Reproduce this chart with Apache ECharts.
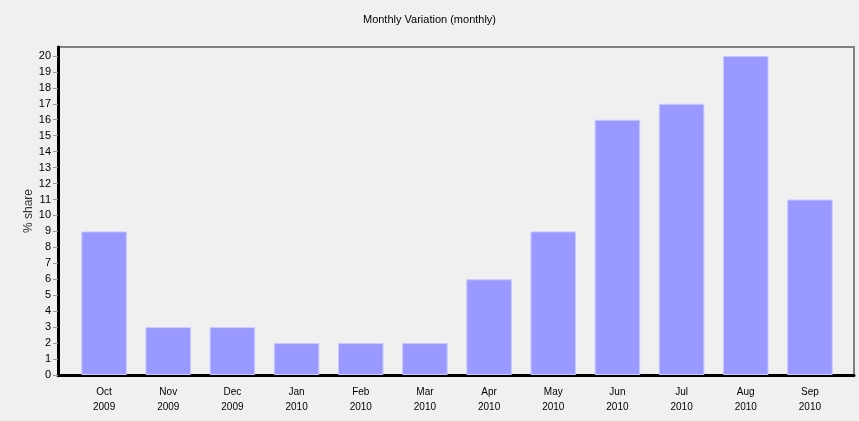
<!DOCTYPE html>
<html>
<head>
<meta charset="utf-8">
<script src="https://cdn.jsdelivr.net/npm/echarts@6/dist/echarts.min.js"></script>
<style>
  html, body { margin: 0; padding: 0; background: #ffffff; }
  #chart { width: 859px; height: 421px; }
</style>
</head>
<body>
<div id="chart"></div>
<script>
// months on the x axis (two-line labels)
var months = ['Oct', 'Nov', 'Dec', 'Jan', 'Feb', 'Mar', 'Apr', 'May', 'Jun', 'Jul', 'Aug', 'Sep'];
var years = ['2009', '2009', '2009', '2010', '2010', '2010', '2010', '2010', '2010', '2010', '2010', '2010'];
// % share per month
var share = [9, 3, 3, 2, 2, 2, 6, 9, 16, 17, 20, 11];
// y tick labels
var yTicks = [0, 1, 2, 3, 4, 5, 6, 7, 8, 9, 10, 11, 12, 13, 14, 15, 16, 17, 18, 19, 20];

var categories = months.map(function (m, i) { return m + '\n' + years[i]; });
var yMax = 20.56;

var chart = echarts.init(document.getElementById('chart'));
chart.setOption({
  backgroundColor: '#f0f0f0',
  animation: false,
  textStyle: { fontFamily: 'Liberation Sans, Arial, sans-serif' },
  title: {
    text: 'Monthly Variation (monthly)',
    left: 'center',
    top: 9,
    textStyle: { fontSize: 11, fontWeight: 'normal', color: '#000' }
  },
  // y axis title, placed by hand
  graphic: [{
    type: 'text',
    x: 29, y: 211,
    rotation: Math.PI / 2,
    style: {
      text: '% share',
      fontSize: 12,
      fontFamily: 'Liberation Sans, Arial, sans-serif',
      fill: '#333',
      align: 'center',
      verticalAlign: 'middle'
    }
  }],
  grid: [
    // frame with the y axis
    { left: 58, right: 5, top: 47, bottom: 46, show: true, borderColor: '#808080', borderWidth: 2 },
    // data area, padded inside the frame
    { left: 72, right: 17, top: 47, bottom: 46 }
  ],
  xAxis: [
    {
      gridIndex: 0, type: 'value', min: 0, max: 1,
      axisLine: { show: true, lineStyle: { color: '#000', width: 3 } },
      axisTick: { show: false }, axisLabel: { show: false }, splitLine: { show: false }
    },
    {
      gridIndex: 1, type: 'category', data: categories,
      axisLine: { show: false },
      axisTick: { alignWithLabel: true, length: 5, lineStyle: { color: '#999' } },
      axisLabel: { fontSize: 10, color: '#000', lineHeight: 15, margin: 10 }
    }
  ],
  yAxis: [
    {
      gridIndex: 0, type: 'value', min: 0, max: yMax, interval: 1,
      splitLine: { show: false },
      axisLine: { show: true, lineStyle: { color: '#000', width: 3 } },
      axisTick: { show: true, length: 5, customValues: yTicks, lineStyle: { color: '#999' } },
      axisLabel: { fontSize: 11, color: '#000', margin: 7, customValues: yTicks }
    },
    {
      gridIndex: 1, type: 'value', min: 0, max: yMax, show: false
    }
  ],
  series: [{
    type: 'bar',
    xAxisIndex: 1,
    yAxisIndex: 1,
    data: share,
    barCategoryGap: '29%',
    itemStyle: { color: '#9999ff', borderColor: '#c8c8ff', borderWidth: 1 }
  }]
});
</script>
</body>
</html>
